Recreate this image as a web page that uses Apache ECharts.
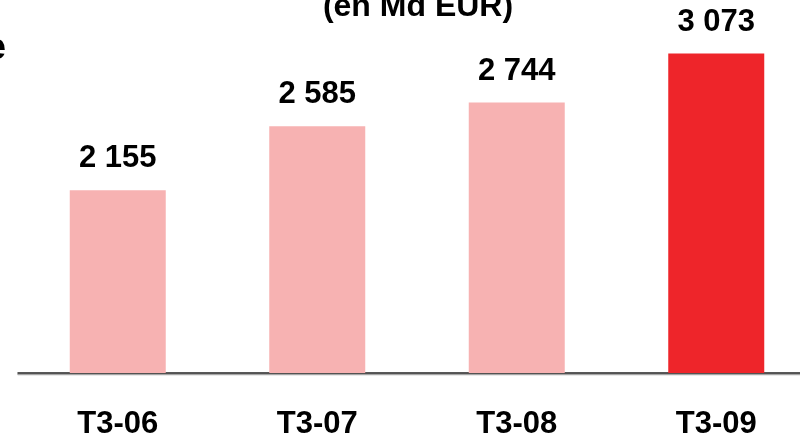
<!DOCTYPE html>
<html>
<head>
<meta charset="utf-8">
<script src="https://cdn.jsdelivr.net/npm/echarts@6/dist/echarts.min.js"></script>
<style>
  html, body { margin: 0; padding: 0; background: #fff; }
  #chart { width: 800px; height: 434px; }
</style>
</head>
<body>
<div id="chart"></div>
<script>
var categories = ['T3-06', 'T3-07', 'T3-08', 'T3-09'];
var values = [2155, 2585, 2744, 3073];
var valueLabels = ['2 155', '2 585', '2 744', '3 073'];
var barColors = ['#f7b2b2', '#f7b2b2', '#f7b2b2', '#ee252a'];

var chart = echarts.init(document.getElementById('chart'));

var option = {
    animation: false,
    title: {
        text: '(en Md EUR)',
        left: 413,
        textAlign: 'center',
        top: -14,
        textStyle: {
            fontFamily: 'Liberation Sans',
            fontWeight: 'bold',
            fontSize: 32,
            color: '#000',
            textShadowColor: 'rgba(0,0,0,0.25)',
            textShadowOffsetX: 1,
            textShadowOffsetY: 1
        }
    },
    graphic: [
        {
            type: 'text',
            left: -14,
            top: 31,
            style: {
                text: 'e',
                fontFamily: 'Liberation Sans',
                fontWeight: 'bold',
                fontSize: 36,
                fill: '#000'
            }
        }
    ],
    grid: {
        left: 18,
        width: 798,
        top: 40,
        bottom: 61,
        outerBoundsMode: 'none',
        containLabel: false
    },
    xAxis: {
        type: 'category',
        data: categories,
        axisTick: { show: false },
        axisLine: {
            lineStyle: {
                color: '#222',
                width: 1.5,
                shadowColor: 'rgba(0,0,0,0.35)',
                shadowOffsetY: 1.5
            }
        },
        axisLabel: {
            margin: 36,
            fontFamily: 'Liberation Sans',
            fontWeight: 'bold',
            fontSize: 31,
            color: '#000'
        }
    },
    yAxis: {
        type: 'value',
        show: false,
        min: 927,
        max: 3164,
        splitLine: { show: false }
    },
    series: [
        {
            type: 'bar',
            barWidth: 96,
            data: values.map(function (v, i) {
                return { value: v, itemStyle: { color: barColors[i] } };
            }),
            label: {
                show: true,
                position: 'top',
                distance: 16,
                formatter: function (p) { return valueLabels[p.dataIndex]; },
                fontFamily: 'Liberation Sans',
                fontWeight: 'bold',
                fontSize: 31,
                color: '#000'
            }
        }
    ]
};

chart.setOption(option);
</script>
</body>
</html>
